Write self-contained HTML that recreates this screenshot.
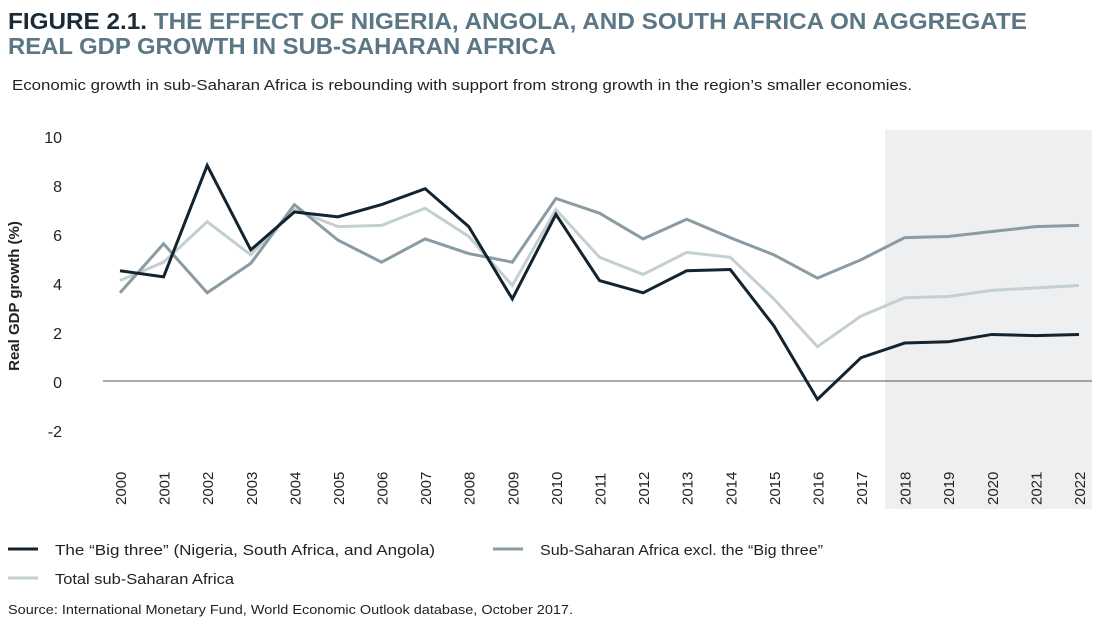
<!DOCTYPE html>
<html><head><meta charset="utf-8"><style>
body{margin:0;background:#fff;}
svg{display:block;font-family:"Liberation Sans",sans-serif;}
</style></head><body>
<svg id="chart" width="1094" height="625" viewBox="0 0 1094 625">
<text x="8" y="29" font-size="23" font-weight="bold" fill="#5b7685" textLength="1019" lengthAdjust="spacingAndGlyphs"><tspan fill="#1a2a36">FIGURE 2.1.</tspan> THE EFFECT OF NIGERIA, ANGOLA, AND SOUTH AFRICA ON AGGREGATE</text>
<text x="8" y="54" font-size="23" font-weight="bold" fill="#5b7685" textLength="548" lengthAdjust="spacingAndGlyphs">REAL GDP GROWTH IN SUB-SAHARAN AFRICA</text>
<text x="12" y="90" font-size="15" fill="#222" textLength="900" lengthAdjust="spacingAndGlyphs">Economic growth in sub-Saharan Africa is rebounding with support from strong growth in the region’s smaller economies.</text>
<rect x="885" y="130" width="207" height="379" fill="#eeeff0"/>
<text transform="translate(19,296) rotate(-90)" text-anchor="middle" font-size="15" font-weight="bold" fill="#222">Real GDP growth (%)</text>
<g id="yticks"></g><g id="xticks"></g>
<line x1="103" x2="1092" y1="381" y2="381" stroke="#555" stroke-width="1"/>
<g id="lines"></g>
<line x1="8" x2="38" y1="549" y2="549" stroke="#13232f" stroke-width="3"/>
<text x="55" y="555" font-size="15" fill="#222" textLength="380" lengthAdjust="spacingAndGlyphs">The “Big three” (Nigeria, South Africa, and Angola)</text>
<line x1="493" x2="523" y1="549" y2="549" stroke="#8a9ba4" stroke-width="3"/>
<text x="540" y="555" font-size="15" fill="#222" textLength="283" lengthAdjust="spacingAndGlyphs">Sub-Saharan Africa excl. the “Big three”</text>
<line x1="8" x2="38" y1="578" y2="578" stroke="#c3cfd0" stroke-width="3"/>
<text x="55" y="584" font-size="15" fill="#222" textLength="179" lengthAdjust="spacingAndGlyphs">Total sub-Saharan Africa</text>
<text x="8" y="614" font-size="13" fill="#222" textLength="565" lengthAdjust="spacingAndGlyphs">Source: International Monetary Fund, World Economic Outlook database, October 2017.</text>
</svg>
<script>
const years=[2000,2001,2002,2003,2004,2005,2006,2007,2008,2009,2010,2011,2012,2013,2014,2015,2016,2017,2018,2019,2020,2021,2022];
const yTicks=[10,8,6,4,2,0,-2];
const bigThree=[4.5,4.25,8.8,5.35,6.9,6.7,7.2,7.85,6.3,3.35,6.8,4.1,3.6,4.5,4.55,2.25,-0.75,0.95,1.55,1.6,1.9,1.85,1.9];
const exclBig=[3.6,5.6,3.6,4.8,7.2,5.75,4.85,5.8,5.2,4.85,7.45,6.85,5.8,6.6,5.85,5.15,4.2,4.95,5.85,5.9,6.1,6.3,6.35];
const totalSSA=[4.1,4.85,6.5,5.15,7.0,6.3,6.35,7.05,5.9,3.9,7.0,5.05,4.35,5.25,5.05,3.35,1.4,2.65,3.4,3.45,3.7,3.8,3.9];
const NS='http://www.w3.org/2000/svg';
const x=i=>120+i*(959/(years.length-1));
const y=v=>381-v*24.5;
const yt=document.getElementById('yticks');
yTicks.forEach(t=>{const e=document.createElementNS(NS,'text');e.setAttribute('x',62);e.setAttribute('y',y(t)+7);e.setAttribute('text-anchor','end');e.setAttribute('font-size','16');e.setAttribute('fill','#222');e.textContent=t;


yt.appendChild(e);});
const xt=document.getElementById('xticks');
years.forEach((yr,i)=>{const e=document.createElementNS(NS,'text');e.setAttribute('transform',`translate(${x(i)+6},505) rotate(-90)`);e.setAttribute('font-size','15');e.setAttribute('fill','#222');e.textContent=yr;


xt.appendChild(e);});
const lg=document.getElementById('lines');
[[totalSSA,'#c3cfd0','line-total-ssa'],[exclBig,'#8a9ba4','line-excl-big-three'],[bigThree,'#13232f','line-big-three']].forEach(([d,c,n])=>{const p=document.createElementNS(NS,'polyline');p.setAttribute('points',d.map((v,i)=>x(i)+','+y(v)).join(' '));p.setAttribute('fill','none');p.setAttribute('stroke',c);p.setAttribute('stroke-width','3');p.setAttribute('stroke-linejoin','miter');


lg.appendChild(p);});
</script>
</body></html>
